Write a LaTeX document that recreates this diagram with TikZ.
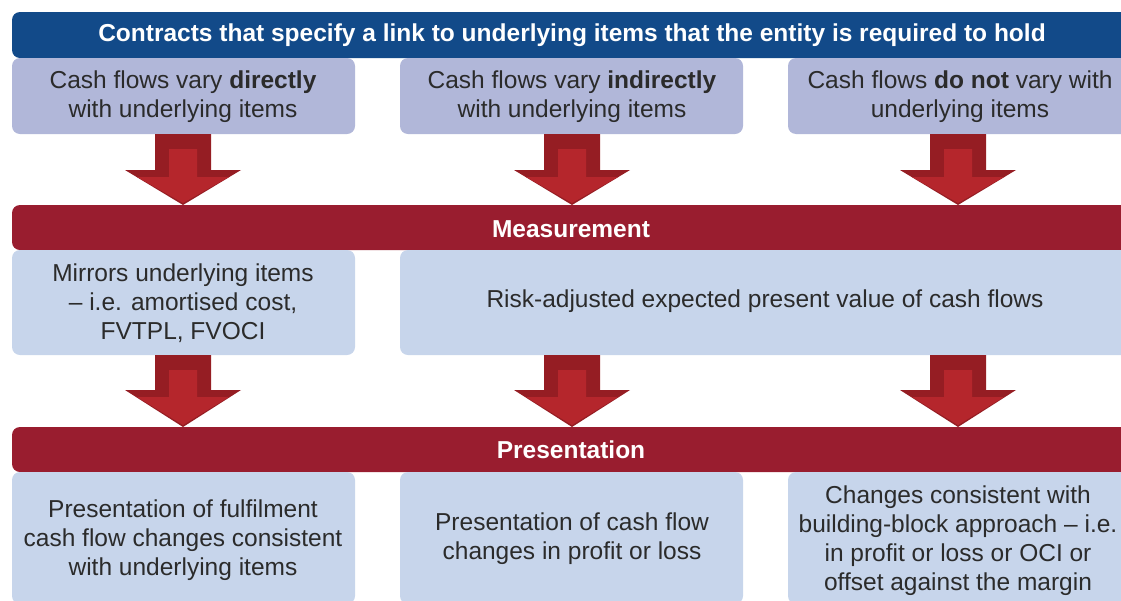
\documentclass[tikz,border=0pt]{standalone}
\usepackage{fontspec}
\setmainfont{Liberation Sans}
\definecolor{bannerblue}{HTML}{124A89}
\definecolor{bannerred}{HTML}{991D2F}
\definecolor{lavender}{HTML}{B1B7D9}
\definecolor{paleblue}{HTML}{C7D5EB}
\definecolor{arrowred}{HTML}{B5262C}
\definecolor{arrowdark}{HTML}{951D23}
\definecolor{txt}{HTML}{2B2B2B}
\newcommand\blockarr[4]{%
  \fill[arrowdark] (#1-28,#2) -- (#1+28,#2) -- (#1+28,#3) -- (#1+58,#3) -- (#1,#4) -- (#1-58,#3) -- (#1-28,#3) -- cycle;
  \fill[arrowred] (#1-14,#2+15) -- (#1+14,#2+15) -- (#1+14,#3+7) -- (#1+46,#3+7) -- (#1,#4-2) -- (#1-46,#3+7) -- (#1-14,#3+7) -- cycle;
}
\tikzset{
  boxtext/.style={text=txt, font=\fontsize{24.5}{29}\selectfont, align=center, inner sep=0pt},
  bannertext/.style={text=white, font=\fontsize{24.5}{28}\selectfont\bfseries, inner sep=0pt},
}
\begin{document}
\begin{tikzpicture}[x=1pt,y=-1pt]
\useasboundingbox (0,0) rectangle (1121,600);
\clip (0,0) rectangle (1121,600);
% top banner
\fill[bannerblue, rounded corners=8pt] (12,58) -- (12,12) -- (1140,12) -- (1140,58) -- cycle;
\node[bannertext] (title) at (572,35) {Contracts that specify a link to underlying items that the entity is required to hold};
% top boxes
\fill[lavender, rounded corners=8pt] (12,58) -- (12,134) -- (355,134) -- (355,58) -- cycle;
\fill[lavender, rounded corners=8pt] (400,58) -- (400,134) -- (743,134) -- (743,58) -- cycle;
\fill[lavender, rounded corners=8pt] (788,58) -- (788,134) -- (1140,134) -- (1140,58) -- cycle;
\node[boxtext] (t1) at (183,97) {Cash flows vary \textbf{directly}\\with underlying items};
\node[boxtext] (t2) at (572,97) {Cash flows vary \textbf{indirectly}\\with underlying items};
\node[boxtext] (t3) at (960,97) {Cash flows \textbf{do not} vary with\\underlying items};
% arrows
\blockarr{183}{134}{170}{205}
\blockarr{572}{134}{170}{205}
\blockarr{958}{134}{170}{205}
% measurement banner
\fill[bannerred, rounded corners=8pt] (12,250) -- (12,205) -- (1140,205) -- (1140,250) -- cycle;
\node[bannertext] (meas) at (571,229) {Measurement};
\fill[paleblue, rounded corners=8pt] (12,250) -- (12,355) -- (355,355) -- (355,250) -- cycle;
\fill[paleblue, rounded corners=8pt] (400,250) -- (400,355) -- (1140,355) -- (1140,250) -- cycle;
\node[boxtext] (m1) at (183,303) {Mirrors underlying items\\– i.e. amortised cost,\\FVTPL, FVOCI};
\node[boxtext] (m2) at (765,301) {Risk-adjusted expected present value of cash flows};
\blockarr{183}{355}{390}{427}
\blockarr{572}{355}{390}{427}
\blockarr{958}{355}{390}{427}
% presentation banner
\fill[bannerred, rounded corners=8pt] (12,472) -- (12,427) -- (1140,427) -- (1140,472) -- cycle;
\node[bannertext] (pres) at (571,450) {Presentation};
\fill[paleblue, rounded corners=8pt] (12,472) -- (12,604) -- (355,604) -- (355,472) -- cycle;
\fill[paleblue, rounded corners=8pt] (400,472) -- (400,604) -- (743,604) -- (743,472) -- cycle;
\fill[paleblue, rounded corners=8pt] (788,472) -- (788,604) -- (1140,604) -- (1140,472) -- cycle;
\node[boxtext] (b1) at (183,540) {Presentation of fulfilment\\cash flow changes consistent\\with underlying items};
\node[boxtext] (b2) at (572,539) {Presentation of cash flow\\changes in profit or loss};
\node[boxtext] (b3) at (958,541) {Changes consistent with\\building-block approach – i.e.\\in profit or loss or OCI or\\offset against the margin};
\end{tikzpicture}
\end{document}
